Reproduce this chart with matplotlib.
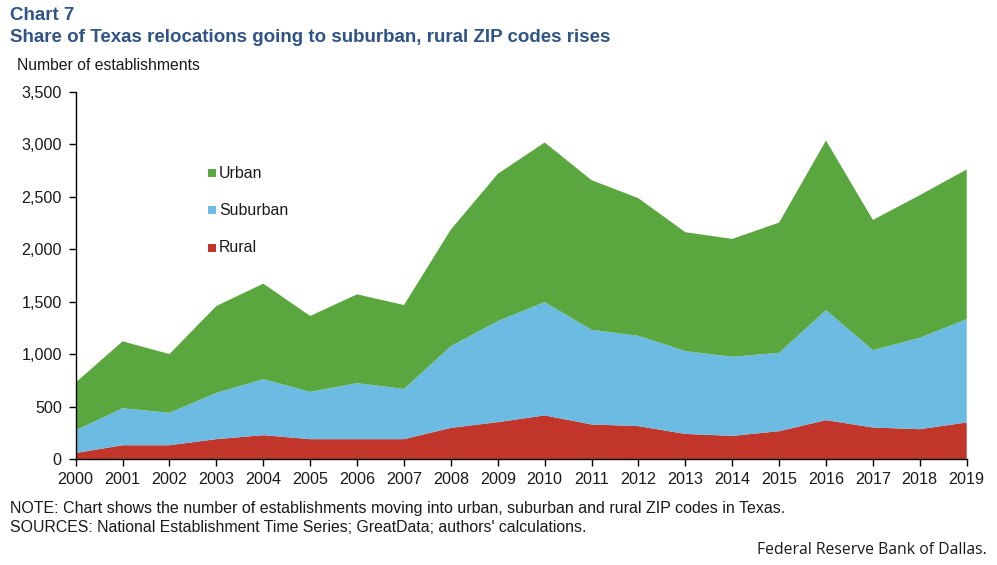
import matplotlib
matplotlib.use('Agg')
import matplotlib.pyplot as plt
from matplotlib.ticker import FuncFormatter

plt.rcParams['font.family'] = ['Liberation Sans', 'DejaVu Sans']

years = list(range(2000, 2020))
rural = [60, 134, 134, 192, 230, 192, 192, 192, 299, 354, 418, 332, 316, 242, 223, 268, 373, 303, 287, 351]
suburban = [217, 353, 309, 441, 534, 451, 534, 479, 779, 963, 1080, 902, 861, 789, 754, 747, 1049, 737, 871, 985]
urban = [455, 637, 560, 828, 910, 723, 846, 799, 1111, 1403, 1521, 1426, 1311, 1133, 1123, 1241, 1616, 1241, 1359, 1426]
yticks = [0, 500, 1000, 1500, 2000, 2500, 3000, 3500]

RED = '#c1352b'
BLUE = '#6bbbe2'
GREEN = '#5aa73f'
NAVY = '#2f5486'
TEXT = '#1a1a1a'
W, H = 997, 565

fig = plt.figure(figsize=(W / 100, H / 100), dpi=100)
ax = fig.add_axes([75.7 / W, 1 - 459.3 / H, 891 / W, 367.3 / H])

ax.stackplot(years, rural, suburban, urban, colors=[RED, BLUE, GREEN], linewidth=0)

ax.set_xlim(2000, 2019)
ax.set_ylim(0, 3500)
ax.set_xticks(years)
ax.set_yticks(yticks)
ax.yaxis.set_major_formatter(FuncFormatter(lambda v, p: f'{int(v):,}'))
ax.tick_params(axis='both', labelsize=11.6, length=5, width=1, color='black', labelcolor=TEXT)
ax.tick_params(axis='x', pad=4)
ax.tick_params(axis='y', pad=5)
for s in ['top', 'right']:
    ax.spines[s].set_visible(False)
for s in ['left', 'bottom']:
    ax.spines[s].set_linewidth(1)
    ax.spines[s].set_zorder(5)

# hand placed legend, same as the original
for label, color, y in [('Urban', GREEN, 173), ('Suburban', BLUE, 210.5), ('Rural', RED, 248)]:
    fig.patches.append(plt.Rectangle((208 / W, 1 - (y + 4) / H), 8 / W, 8 / H, color=color,
                                     transform=fig.transFigure, linewidth=0))
    fig.text(219 / W, 1 - y / H, label, fontsize=11.4, color=TEXT, va='center')

fig.text(10 / W, 1 - 16 / H, 'Chart 7', fontsize=13.5, fontweight='bold', color=NAVY, va='center')
fig.text(10 / W, 1 - 37 / H, 'Share of Texas relocations going to suburban, rural ZIP codes rises',
         fontsize=13.5, fontweight='bold', color=NAVY, va='center')
fig.text(17 / W, 1 - 65 / H, 'Number of establishments', fontsize=11.3, color=TEXT, va='center')
fig.text(10 / W, 1 - 509 / H,
         'NOTE: Chart shows the number of establishments moving into urban, suburban and rural ZIP codes in Texas.',
         fontsize=11.5, color=TEXT, va='center')
fig.text(10 / W, 1 - 527 / H,
         "SOURCES: National Establishment Time Series; GreatData; authors' calculations.",
         fontsize=11.45, color=TEXT, va='center')
fig.text(987 / W, 1 - 550 / H, 'Federal Reserve Bank of Dallas.', fontsize=11.3, color=TEXT,
         family='Open Sans', va='center', ha='right')

fig.savefig('out.png', dpi=100)
